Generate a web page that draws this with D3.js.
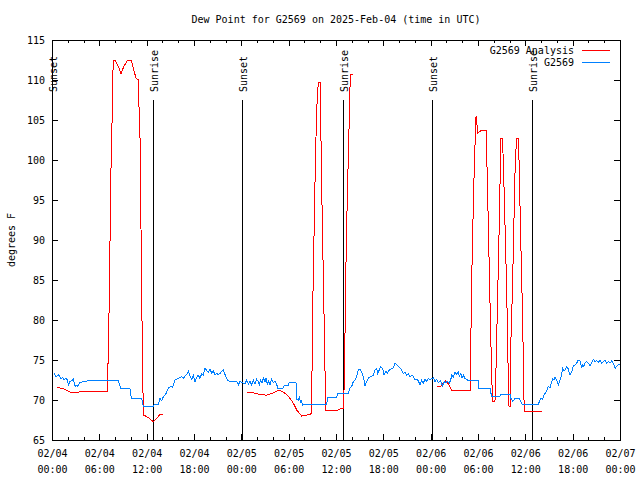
<!DOCTYPE html>
<html><head><meta charset="utf-8">
<script src="https://cdn.jsdelivr.net/npm/d3@7"></script>
<style>
body{margin:0;background:#fff}
svg{display:block}
text{font-family:"DejaVu Sans Mono","Liberation Mono",monospace;font-size:10px;fill:#000}
</style>
</head><body>
<svg id="c" width="640" height="480"></svg>
<script>
const titleText = "Dew Point for G2569 on 2025-Feb-04 (time in UTC)";
const yLabelText = "degrees F";
const seriesNames = ["G2569 Analysis", "G2569"];
const startTime = "2025-02-04T00:00:00Z";
const endTime = "2025-02-07T00:00:00Z";
const yTicks = [65, 70, 75, 80, 85, 90, 95, 100, 105, 110, 115];
const sunsetHours = [0.08, 24.12, 48.2];
const sunriseHours = [12.84, 36.93, 60.88];

// Analysis series (hours since start; null = gap)
const analysisHours = [
0.67,1.43,2.07,2.5,3.13,3.76,4.5,7.0,7.05,7.14,7.48,7.57,7.67,7.77,8.02,8.4,8.75,9.1,9.55,9.8,10.05,10.31,10.65,10.99,11.03,11.12,11.5,11.66,12.21,12.84,13.35,13.69,14.03,
null,
24.76,25.52,26.37,27.13,27.85,28.81,29.32,29.95,30.59,31.02,31.65,32.29,32.92,33.0,33.12,33.25,33.38,33.55,33.76,34.01,34.05,34.14,34.26,34.39,34.52,34.69,36.29,36.72,36.92,37.05,37.31,37.56,37.74,37.81,38.12,
null,
48.76,49.27,49.82,50.04,50.24,50.67,53.07,53.10,53.20,53.33,53.45,53.62,53.75,53.85,53.9,54.47,55.05,55.10,55.23,55.36,55.48,55.61,55.74,55.86,56.15,56.24,56.37,56.50,56.62,56.75,56.88,57.08,57.21,57.33,57.51,57.64,57.76,57.84,57.93,58.06,58.10,58.18,58.35,58.48,58.60,58.73,58.90,59.11,59.20,59.32,59.45,59.58,59.70,59.79,59.87,62.07
];
const analysisValues = [
71.6,71.4,71.1,70.9,70.9,71.1,71.1,71.1,74.6,74.6,99.0,102.1,109.0,112.5,112.5,111.7,110.8,111.7,112.4,112.5,112.4,111.5,110.2,110.0,106.6,106.0,71.7,68.1,67.8,67.3,67.8,68.2,68.2,
null,
71.0,70.9,70.7,70.6,70.8,71.25,71.0,70.5,69.6,68.75,68.0,68.1,68.3,78.7,85.5,92.5,99.4,106.3,109.7,109.7,106.3,99.4,92.5,85.5,78.7,68.75,68.75,69.0,69.0,72.0,90.0,100.4,107.3,110.75,110.75,
null,
71.7,71.7,72.4,72.3,72.0,71.25,71.25,78.0,85.0,90.8,96.3,101.9,105.4,105.4,103.3,103.75,103.75,101.0,95.4,89.6,84.0,78.3,72.7,69.8,69.8,72.1,77.7,83.3,88.7,94.4,102.7,102.7,100.0,95.4,88.7,83.3,77.7,72.1,69.25,69.25,72.1,77.7,83.3,88.7,94.4,100.0,102.7,102.7,100.0,94.4,88.7,83.3,77.7,71.7,68.5,68.6
];

// Observed series
const obsHours = [
0.25,0.51,0.80,1.10,1.36,1.52,1.77,1.94,2.07,2.28,2.50,2.70,2.92,3.04,3.21,3.55,3.97,4.40,4.60,8.40,8.71,9.89,10.05,11.37,11.57,12.84,12.97,13.47,13.69,13.91,14.11,14.45,14.74,15.05,15.30,15.59,16.01,16.44,16.64,16.86,17.07,17.28,17.49,17.71,17.91,18.13,18.34,18.54,18.76,18.98,19.18,19.39,19.61,19.81,20.03,20.24,20.45,20.66,20.87,21.08,21.30,21.51,21.71,21.93,22.14,22.35,22.78,23.41,23.62,23.83,
24.46,24.68,24.88,25.10,25.31,25.52,25.73,25.95,26.15,26.28,26.45,26.62,26.78,27.00,27.13,27.29,27.42,27.63,27.85,28.05,28.27,28.48,28.61,29.24,29.45,29.95,30.08,30.93,31.02,31.22,31.35,31.53,31.65,31.78,31.85,34.82,34.95,36.09,36.21,37.56,37.77,37.99,38.19,38.41,38.62,38.83,39.04,39.26,39.39,39.55,39.68,39.89,40.09,40.31,40.52,40.73,40.94,41.16,41.28,41.48,41.67,41.92,42.08,42.34,42.50,42.76,43.06,43.26,43.48,43.70,43.90,44.11,44.33,44.53,44.75,44.96,45.16,45.38,45.60,45.80,46.01,46.23,46.43,46.65,46.86,47.07,47.28,47.50,47.70,47.91,
48.33,48.55,48.76,48.97,49.27,49.52,49.69,49.94,50.11,50.36,50.54,50.67,50.87,51.08,51.30,51.50,51.63,51.81,51.97,52.14,52.35,52.57,52.64,54.04,54.09,55.52,55.65,55.74,55.94,56.79,56.88,58.06,58.18,58.40,58.69,59.11,59.29,59.54,61.64,61.77,61.98,62.20,62.37,62.49,62.71,62.91,63.13,63.34,63.47,63.63,63.76,63.98,64.18,64.31,64.48,64.61,64.74,64.90,65.03,65.24,65.44,65.66,65.87,66.08,66.29,66.51,66.71,66.93,67.14,67.27,67.44,67.56,67.78,67.98,68.20,68.41,68.61,68.83,69.04,69.25,69.46,69.68,69.89,70.10,70.32,70.52,70.73,70.95,71.15,71.37,71.58,71.78,72.0
];
const obsValues = [
73.3,72.9,73.2,72.7,72.8,72.5,72.7,72.5,71.9,72.3,72.4,72.6,71.7,71.9,71.7,72.2,72.3,72.3,72.5,72.5,71.4,71.4,70.25,70.25,69.25,69.25,69.45,69.45,70.2,69.9,70.4,70.8,71.5,71.7,71.6,72.5,72.7,72.9,72.7,73.0,73.2,73.6,73.0,72.6,73.1,72.3,72.8,73.1,72.7,73.3,73.1,74.0,73.7,73.5,73.8,73.4,73.6,73.2,73.3,73.2,73.3,73.6,73.75,73.2,72.7,72.4,72.3,72.3,71.9,72.3,
72.0,72.5,72.0,72.3,71.9,72.5,72.0,72.6,72.3,71.9,72.5,72.1,72.75,72.3,72.75,72.0,72.4,71.9,72.6,72.2,72.3,72.0,71.45,71.45,71.8,71.8,72.2,72.2,70.1,70.0,70.3,69.7,69.9,69.2,69.45,69.45,70.35,70.35,70.8,70.8,71.5,71.7,72.3,72.5,72.9,73.75,73.8,73.5,73.1,72.5,71.8,72.3,72.7,72.9,73.0,73.1,73.75,73.96,73.3,73.75,74.2,73.9,73.1,73.6,73.3,73.75,73.96,74.0,74.6,74.4,74.2,74.0,73.75,73.3,73.5,73.1,73.3,72.9,73.1,73.0,72.5,72.6,72.4,71.9,72.5,72.1,72.6,72.3,72.7,72.5,
72.8,72.3,72.6,72.2,72.4,71.7,72.3,72.1,72.35,72.1,72.5,73.1,72.9,73.5,73.2,73.5,73.0,73.3,72.8,73.1,72.7,72.6,72.5,72.5,71.45,71.45,70.8,70.4,70.5,70.5,70.7,70.7,70.2,69.8,70.2,70.2,70.1,69.5,69.4,69.8,70.2,70.1,70.6,70.8,71.2,71.7,71.5,72.3,72.6,72.5,72.9,72.5,71.9,72.3,72.7,73.3,73.96,73.6,73.75,74.2,73.9,73.1,73.5,74.2,74.4,74.6,75.0,74.9,73.96,74.4,74.2,74.6,74.8,74.6,74.3,74.7,75.1,74.8,74.9,74.7,75.0,74.6,74.8,75.0,74.6,74.8,74.6,74.9,74.6,73.96,74.2,74.4,74.4
];

const colors = ["#ff0000", "#0080ff"];

const svg = d3.select("#c");
const L = 52, R = 620, T = 40, B = 440;
const t0 = new Date(startTime), t1 = new Date(endTime);
const toDate = h => new Date(t0.getTime() + h * 3600e3);
const x = d3.scaleUtc().domain([t0, t1]).range([L, R]);
const y = d3.scaleLinear().domain([65, 115]).range([B, T]);

const majorTicks = d3.range(0, 73, 6).map(toDate);
const minorTicks = d3.range(0, 73, 2).filter(h => h % 6 !== 0).map(toDate);

// axes
const gB = svg.append("g").attr("transform", `translate(0,${B})`)
  .call(d3.axisBottom(x).tickValues(majorTicks).tickSizeInner(-6).tickSizeOuter(0).tickPadding(0).tickFormat(d3.utcFormat("%m/%d|%H:%M")));
gB.selectAll("text").each(function(d){
  const parts = d3.utcFormat("%m/%d|%H:%M")(d).split("|");
  const t = d3.select(this).attr("y", null).attr("dy", null).text(null);
  t.append("tspan").attr("x", 0).attr("y", 16.5).text(parts[0]);
  t.append("tspan").attr("x", 0).attr("y", 32.5).text(parts[1]);
});
svg.append("g").attr("transform", `translate(0,${B})`)
  .call(d3.axisBottom(x).tickValues(minorTicks).tickSizeInner(-3).tickSizeOuter(0).tickFormat(""));
svg.append("g").attr("transform", `translate(0,${T})`)
  .call(d3.axisTop(x).tickValues(majorTicks).tickSizeInner(-6).tickSizeOuter(0).tickFormat(""));
svg.append("g").attr("transform", `translate(0,${T})`)
  .call(d3.axisTop(x).tickValues(minorTicks).tickSizeInner(-3).tickSizeOuter(0).tickFormat(""));
svg.append("g").attr("transform", `translate(${L},0)`)
  .call(d3.axisLeft(y).tickValues(yTicks).tickSizeInner(-6).tickSizeOuter(0).tickPadding(7).tickFormat(d3.format("d")));
svg.append("g").attr("transform", `translate(${R},0)`)
  .call(d3.axisRight(y).tickValues(yTicks).tickSizeInner(-6).tickSizeOuter(0).tickFormat(""));
svg.selectAll(".domain").remove();
svg.selectAll(".tick line").attr("stroke", "#000").attr("shape-rendering", "crispEdges");
svg.selectAll(".tick text").style("font-family", "'DejaVu Sans Mono',monospace").style("font-size", "10px");

// frame
svg.append("rect").attr("x", L).attr("y", T).attr("width", R - L).attr("height", B - T)
  .attr("fill", "none").attr("stroke", "#000").attr("shape-rendering", "crispEdges");

// sunrise / sunset markers
const sunEvents = sunsetHours.map(h => ({h, label: "Sunset"}))
  .concat(sunriseHours.map(h => ({h, label: "Sunrise"})));
sunEvents.forEach(e => {
  const xx = x(toDate(e.h));
  svg.append("line").attr("x1", xx).attr("x2", xx).attr("y1", y(107.5)).attr("y2", B)
    .attr("stroke", "#000").attr("shape-rendering", "crispEdges");
  svg.append("text").attr("transform", `translate(${xx + 1},92) rotate(-90)`)
    .attr("dy", "0.35em").attr("text-anchor", "start").text(e.label);
});

// data lines (analysis first, observations drawn on top)
function mk(hours, vals) {
  return hours.map((h, i) => ({h, v: vals[i]}));
}
const line = d3.line().defined(d => d.h !== null && d.v !== null)
  .x(d => x(toDate(d.h))).y(d => y(d.v));
svg.append("path").datum(mk(analysisHours, analysisValues)).attr("d", line)
  .attr("fill", "none").attr("stroke", colors[0]).attr("stroke-width", 1).attr("shape-rendering", "crispEdges");
svg.append("path").datum(mk(obsHours, obsValues)).attr("d", line)
  .attr("fill", "none").attr("stroke", colors[1]).attr("stroke-width", 1).attr("shape-rendering", "crispEdges");

// legend
seriesNames.forEach((n, i) => {
  const yy = 50 + i * 12.5;
  svg.append("text").attr("x", 574).attr("y", yy).attr("dy", "0.35em").attr("text-anchor", "end").text(n);
  svg.append("line").attr("x1", 582).attr("x2", 610).attr("y1", yy).attr("y2", yy)
    .attr("stroke", colors[i]).attr("shape-rendering", "crispEdges");
});

// title and y label
svg.append("text").attr("x", 336).attr("y", 19).attr("dy", "0.35em").attr("text-anchor", "middle").text(titleText);
svg.append("text").attr("transform", "translate(11,240) rotate(-90)").attr("dy", "0.35em")
  .attr("text-anchor", "middle").text(yLabelText);
</script>
</body></html>
